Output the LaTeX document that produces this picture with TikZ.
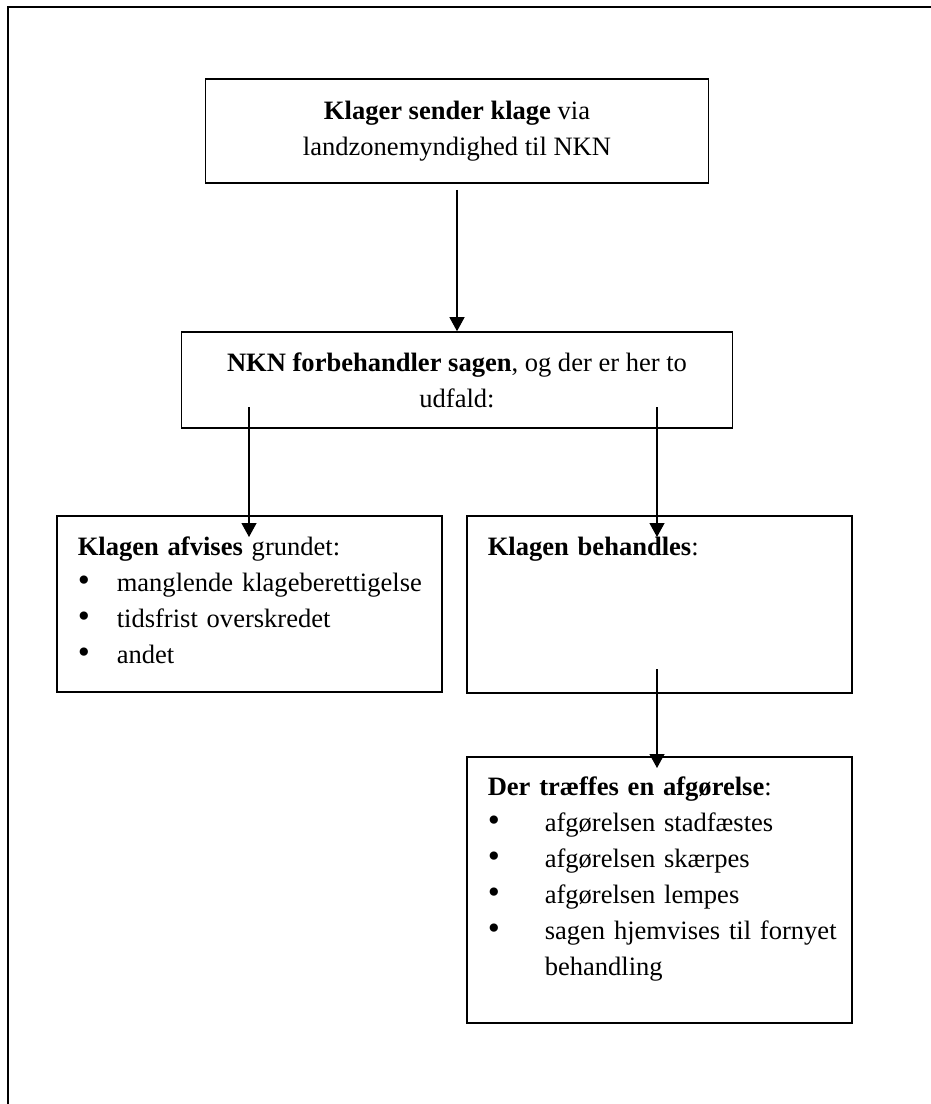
\documentclass[tikz,border=0pt]{standalone}
\usepackage{fontspec}
\setmainfont{Liberation Serif}
\usepackage{graphicx}
\usepackage{tikz}
\usetikzlibrary{arrows.meta}
\usetikzlibrary{calc}

\newcommand{\punkt}[2]{\par\noindent\makebox[#1][l]{\scalebox{1.3}{\textbullet}}\mbox{#2}}

\begin{document}
\begin{tikzpicture}[line width=0.9pt, font=\fontsize{15.1pt}{20.4pt}\selectfont]

			\tikzstyle{kasse} = [draw, rectangle, inner sep=0pt]
			\tikzstyle{midt} = [kasse, align=center]
			\tikzstyle{liste} = [kasse, anchor=north west, align=left, inner xsep=0.42cm, text width=6.86cm]
			\tikzstyle{pil} = [line width=0.7pt, -{Triangle[length=0.28cm,width=0.3cm]}]

			\useasboundingbox (0,0) rectangle (18.62,-22.08);

			% ramme
			\draw (0.16,-22.08) -- (0.16,-0.14) -- (18.62,-0.14);

			\node[midt, minimum width=10.06cm, minimum height=2.08cm] (klage) at (9.14,-2.62) {\textbf{Klager sender klage} via\\landzonemyndighed til NKN};
			\node[midt, minimum width=11.02cm, minimum height=1.92cm] (forbeh) at (9.14,-7.60) {\textbf{NKN forbehandler sagen}, og der er her to\\udfald:};

			\node[liste, text height=0.80cm, text depth=2.72cm] (afvist) at (1.12,-10.30) {\textbf{Klagen afvises} grundet:\punkt{0.78cm}{manglende klageberettigelse}\punkt{0.78cm}{tidsfrist overskredet}\punkt{0.78cm}{andet}};
			\node[liste, text height=0.80cm, text depth=2.74cm] (behandl) at (9.32,-10.30) {\textbf{Klagen behandles}:};
			\node[liste, text height=0.78cm, text depth=4.54cm] (afgor) at (9.32,-15.12) {\textbf{Der træffes en afgørelse}:\punkt{1.14cm}{afgørelsen stadfæstes}\punkt{1.14cm}{afgørelsen skærpes}\punkt{1.14cm}{afgørelsen lempes}\punkt{1.14cm}{sagen hjemvises til fornyet}\par\noindent\hspace*{1.14cm}behandling};

			\coordinate (v1) at (4.98,-8.14);
			\coordinate (h1) at (13.14,-8.14);
			\coordinate (h2) at (13.14,-13.38);

			\draw[pil] ([yshift=-0.12cm]klage.south) -- (forbeh.north);
			\draw[pil] (v1) -- ($(v1 |- afvist.north)+(0,-0.44)$);
			\draw[pil] (h1) -- ($(h1 |- behandl.north)+(0,-0.44)$);
			\draw[pil] (h2) -- ($(h2 |- afgor.north)+(0,-0.24)$);
		\end{tikzpicture}
\end{document}
